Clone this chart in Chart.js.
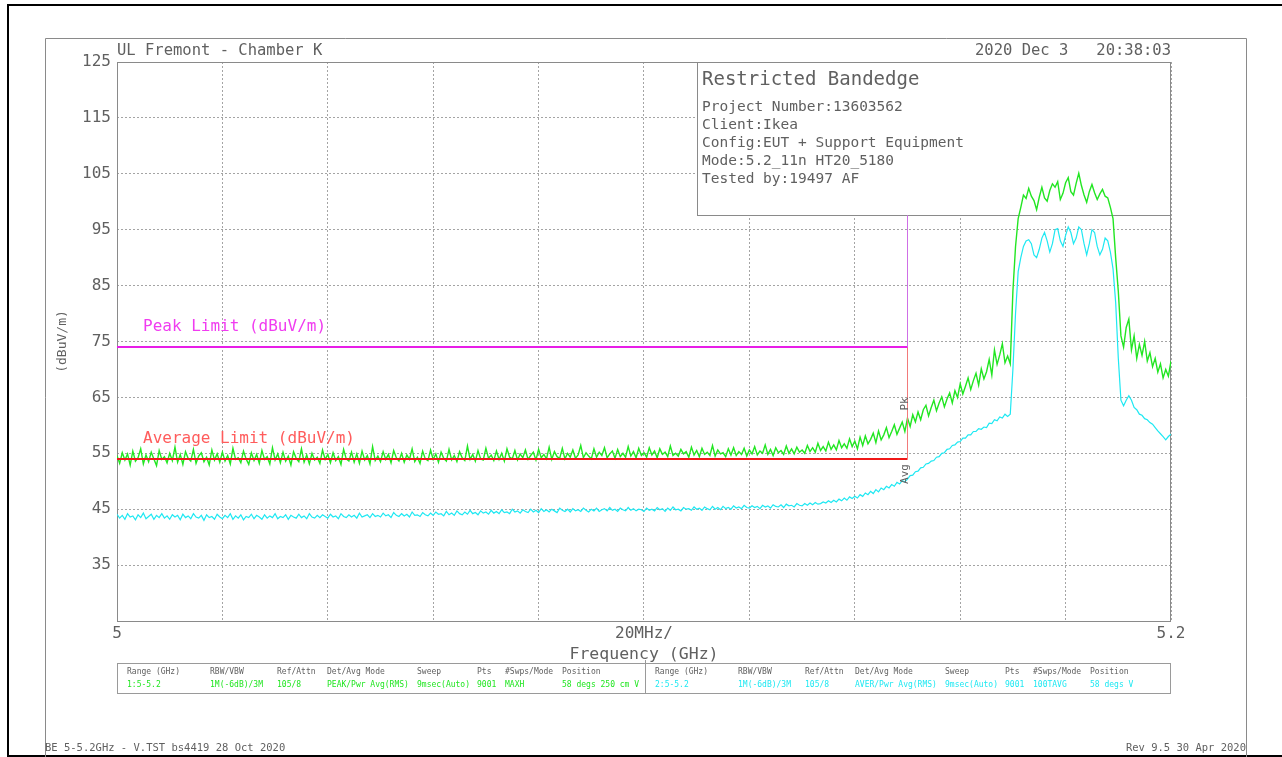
<!DOCTYPE html>
<html>
<head>
<meta charset="utf-8">
<script src="https://cdn.jsdelivr.net/npm/chart.js@4"></script>
<style>
  html, body { margin: 0; padding: 0; background: #fff; }
  canvas { display: block; }
</style>
</head>
<body>
<canvas id="scan" width="1282" height="757"></canvas>
<script>
// sweep: 5.0 - 5.2 GHz, values every 0.5 MHz
const freqStart = 5.0;
const freqStep = 0.0005;

// peak detector trace (green), dBuV/m
const peakTrace = [
  54.6,53.2,55.1,53.8,54.9,52.9,55.4,53.6,54.2,55.8,53.1,54.7,53.5,55.2,54.0,52.8,55.5,53.9,54.4,53.3,
  55.0,53.7,56.1,53.4,54.8,53.0,55.3,54.1,53.6,55.7,53.2,54.5,55.1,53.5,54.3,52.9,55.6,53.8,54.9,53.4,
  55.2,53.6,54.6,53.1,55.9,53.9,54.2,53.3,55.4,54.0,53.0,55.1,53.7,54.8,53.2,55.5,53.9,54.4,53.1,56.0,
  53.8,54.9,53.3,55.2,53.6,54.5,52.9,55.3,54.1,53.5,55.8,53.4,54.7,53.1,55.0,53.8,54.3,53.2,55.6,53.9,
  54.8,53.3,55.1,53.7,54.4,53.0,55.7,54.0,53.6,55.2,53.4,54.9,53.2,55.4,53.8,54.6,53.1,56.2,53.7,54.5,
  53.5,55.3,53.9,54.8,53.3,55.5,54.2,53.6,55.0,53.4,54.7,53.9,55.8,53.5,54.3,53.2,55.4,54.0,53.7,55.6,
  53.9,54.9,53.4,55.2,54.1,53.6,55.7,53.8,54.6,53.5,55.3,54.2,53.7,56.3,53.9,54.8,53.6,55.5,54.0,53.8,
  55.9,54.1,54.7,53.7,55.4,53.9,55.0,53.6,55.8,54.3,54.0,55.5,53.8,54.9,54.2,55.6,53.9,54.6,55.2,53.8,
  55.7,54.2,54.8,54.0,56.1,53.9,55.3,54.4,54.1,55.9,54.0,55.0,54.3,55.6,54.1,54.7,56.4,54.2,55.1,54.5,
  54.0,55.8,54.3,55.2,54.6,56.0,54.2,54.9,55.4,54.1,55.7,54.4,55.0,54.3,56.2,54.5,55.3,54.2,55.9,54.6,
  55.1,54.3,56.0,54.7,55.4,54.2,55.8,54.8,55.2,54.4,56.3,54.6,55.0,54.5,55.7,54.9,55.3,54.3,56.1,54.7,
  55.5,54.4,55.9,54.8,55.2,54.6,56.4,54.5,55.6,54.9,55.1,54.4,55.8,54.7,56.0,54.6,55.3,54.8,55.9,54.5,
  55.6,54.9,56.2,54.7,55.4,55.0,56.5,54.8,55.7,54.6,56.0,55.1,55.5,54.8,56.3,55.0,55.8,54.9,56.1,55.2,
  55.6,55.0,56.4,55.3,56.0,55.2,56.8,55.5,56.2,55.4,57.0,55.7,56.5,55.6,57.3,56.0,56.7,55.9,57.6,56.2,
  57.2,55.8,57.9,56.4,58.1,56.7,57.5,58.6,56.9,59.0,57.4,58.3,59.6,57.8,58.9,60.1,58.4,59.5,60.6,58.9,
  61.3,59.8,61.9,60.6,62.4,61.0,62.8,63.6,61.7,63.2,64.5,62.6,64.0,65.1,63.3,64.7,65.8,64.0,66.2,65.0,
  67.4,65.6,67.0,68.5,66.4,68.0,69.3,67.2,70.1,68.3,69.6,71.8,69.0,73.5,70.9,72.6,74.6,71.2,72.4,
  71,84,92,97,
  99,101.2,100.6,102.4,101.0,100.2,98.6,100.8,102.6,100.7,100.1,102.0,103.2,102.6,103.6,100.4,101.5,
  103.4,104.3,101.8,101.2,103.3,105.1,102.9,101.2,99.9,101.8,103.1,101.6,100.4,101.4,102.2,101.0,100.7,
  99,97,90,84,76,74,77.5,79,73.5,76,72,74.5,72.5,75,71.5,73,70.5,72,69.5,71,68.5,70,68.8,71.5
];

// average detector trace (cyan), dBuV/m
const avgTrace = [
  44.1,43.4,43.9,43.2,44.2,43.6,43.8,43.1,44.0,43.5,44.3,43.3,43.7,44.1,43.2,43.9,43.5,44.2,43.4,43.8,
  43.2,44.0,43.6,43.9,43.1,44.1,43.5,43.8,43.3,44.2,43.6,43.4,43.9,43.0,44.0,43.5,43.7,43.2,44.1,43.6,
  43.3,43.9,43.5,44.2,43.2,43.8,43.4,44.0,43.1,43.7,43.5,44.1,43.3,43.9,43.6,43.2,44.0,43.4,43.8,43.5,
  44.2,43.3,43.7,43.5,44.0,43.2,43.9,43.6,43.4,44.1,43.5,43.8,43.3,44.2,43.6,43.4,43.9,43.5,44.0,43.7,
  43.4,44.1,43.6,43.8,43.3,44.2,43.7,43.5,44.0,43.6,43.9,43.4,44.3,43.6,43.8,44.0,43.5,44.2,43.7,43.9,
  43.6,44.3,43.8,44.0,43.5,44.4,43.9,43.7,44.2,43.8,44.1,43.6,44.5,43.9,44.0,43.7,44.4,44.0,43.8,44.3,
  43.9,44.5,44.1,44.2,43.8,44.6,44.0,44.3,43.9,44.7,44.2,44.0,44.5,44.1,44.8,44.2,44.4,44.0,44.7,44.3,
  44.5,44.1,44.8,44.3,44.6,44.2,44.9,44.4,44.5,44.2,45.0,44.5,44.7,44.3,44.9,44.6,44.4,45.0,44.5,44.8,
  44.4,45.1,44.6,44.9,44.5,45.0,44.7,44.4,45.2,44.8,44.6,45.0,44.5,45.1,44.7,44.9,44.6,45.2,44.8,44.5,
  45.0,44.7,45.2,44.6,44.9,45.1,44.7,45.3,44.8,45.0,44.6,45.2,44.9,44.7,45.3,44.8,45.1,44.7,45.0,44.9,
  44.6,45.2,44.8,45.0,44.7,45.3,44.9,45.1,44.6,45.2,44.8,45.4,44.9,45.0,44.7,45.3,45.0,45.1,44.8,45.4,
  45.0,45.2,44.8,45.4,45.1,44.9,45.5,45.0,45.3,44.9,45.5,45.1,45.3,45.0,45.6,45.2,45.4,45.1,45.7,45.3,
  45.2,45.6,45.3,45.5,45.1,45.7,45.4,45.6,45.2,45.8,45.5,45.4,45.8,45.3,45.9,45.6,45.7,45.4,46.0,45.7,
  45.6,46.0,45.7,46.1,45.8,46.2,45.9,46.0,46.3,46.1,46.5,46.2,46.6,46.3,46.8,46.5,47.0,46.6,47.2,46.9,
  47.3,47.0,47.6,47.3,47.9,47.6,48.2,47.8,48.5,48.1,48.8,48.5,49.1,48.8,49.4,49.1,49.8,49.5,50.1,49.9,
  50.4,51.0,51.1,51.7,51.8,52.4,52.5,53.1,53.2,53.6,53.7,54.3,54.4,55.0,55.1,55.7,55.8,56.4,56.5,57.0,
  57.1,57.7,57.7,58.3,58.3,58.9,58.9,59.4,59.3,59.7,59.6,60.4,60.3,61.0,60.8,61.5,61.3,62.0,61.6,
  62,70,80,87.5,
  90,92,93,93.2,92.5,90.5,90,91.5,93.5,94.5,93,91,92.5,95,95.2,93,92,
  94,95.5,94.5,92.5,93.5,95.5,95,92.5,90.5,92.5,95,94.5,92,90.5,91.5,93.5,93,
  91,88,82,72,64.5,63.5,64.5,65.3,64.5,63.2,62.8,62,61.8,61.2,61,60.5,60.2,59.6,59,58.5,58,57.4,58,58.4
];

// limit lines (restricted band edge at 5.15 GHz)
const peakLimitFreq = [5.0, 5.15, 5.15];
const peakLimitLevel = [74, 74, 97.6];
const avgLimitFreq = [5.0, 5.15, 5.15];
const avgLimitLevel = [54, 54, 74];

// axes
const xTicks = [5.0, 5.02, 5.04, 5.06, 5.08, 5.1, 5.12, 5.14, 5.16, 5.18, 5.2];
const xTickLabels = ['5', '', '', '', '', '20MHz/', '', '', '', '', '5.2'];
const yTicks = [25, 35, 45, 55, 65, 75, 85, 95, 105, 115, 125];

// header / info box / settings table texts
const infoTitle = 'Restricted Bandedge';
const infoLines = ['Project Number:13603562', 'Client:Ikea', 'Config:EUT + Support Equipment',
  'Mode:5.2_11n HT20_5180', 'Tested by:19497 AF'];
const tableHeads = ['Range (GHz)', 'RBW/VBW', 'Ref/Attn', 'Det/Avg Mode', 'Sweep', 'Pts', '#Swps/Mode', 'Position'];
const peakRow = ['1:5-5.2', '1M(-6dB)/3M', '105/8', 'PEAK/Pwr Avg(RMS)', '9msec(Auto)', '9001', 'MAXH', '58 degs 250 cm V'];
const avgRow = ['2:5-5.2', '1M(-6dB)/3M', '105/8', 'AVER/Pwr Avg(RMS)', '9msec(Auto)', '9001', '100TAVG', '58 degs V'];
const tableCols = [127, 210, 277, 327, 417, 477, 505, 562];

const MONO = '"DejaVu Sans Mono", "Liberation Mono", monospace';
const TEXT = '#606060';
const GREEN = '#22e622';
const CYAN = '#1ee8f2';

const toXY = arr => arr.map((v, i) => ({ x: freqStart + i * freqStep, y: v }));
const zip = (xs, ys) => xs.map((x, i) => ({ x: x, y: ys[i] }));

const decor = {
  id: 'decor',
  beforeDatasetsDraw(chart) {
    const { ctx, chartArea: a } = chart;
    ctx.save();
    ctx.strokeStyle = '#8a8a8a';
    ctx.lineWidth = 1;
    ctx.strokeRect(a.left + 0.5, a.top + 0.5, a.right - a.left - 1, a.bottom - a.top);
    // info box sits under the traces
    ctx.fillStyle = '#fff';
    ctx.fillRect(697, a.top, a.right - 697, 153);
    ctx.strokeRect(697.5, a.top + 0.5, a.right - 698, 153);
    ctx.restore();
  },
  afterDraw(chart) {
    const { ctx, chartArea: a } = chart;
    ctx.save();
    // outer frames
    ctx.strokeStyle = '#000';
    ctx.lineWidth = 2;
    ctx.beginPath();
    ctx.moveTo(1282, 5); ctx.lineTo(8, 5); ctx.lineTo(8, 756); ctx.lineTo(1282, 756);
    ctx.stroke();
    ctx.strokeStyle = '#8a8a8a';
    ctx.lineWidth = 1;
    ctx.beginPath();
    ctx.moveTo(45.5, 757); ctx.lineTo(45.5, 38.5); ctx.lineTo(1246.5, 38.5); ctx.lineTo(1246.5, 757);
    ctx.stroke();

    ctx.textBaseline = 'middle';
    ctx.fillStyle = TEXT;
    ctx.font = '15.5px ' + MONO;
    ctx.textAlign = 'left';
    ctx.fillText('UL Fremont - Chamber K', a.left, 51);
    ctx.textAlign = 'right';
    ctx.fillText('2020 Dec 3   20:38:03', a.right, 51);

    // info box text
    ctx.textAlign = 'left';
    ctx.font = '19px ' + MONO;
    ctx.fillText(infoTitle, 702, 80);
    ctx.font = '14.5px ' + MONO;
    infoLines.forEach((t, i) => ctx.fillText(t, 702, 107 + i * 18));

    // limit labels
    ctx.font = '16px ' + MONO;
    ctx.fillStyle = '#f03cf0';
    ctx.fillText('Peak Limit (dBuV/m)', 143, 327);
    ctx.fillStyle = '#ff5c5c';
    ctx.fillText('Average Limit (dBuV/m)', 143, 439);

    // marker tags at the band edge
    const xe = chart.scales.x.getPixelForValue(5.15);
    ctx.fillStyle = TEXT;
    ctx.font = '11px ' + MONO;
    [['Pk', 404], ['Avg', 474]].forEach(([t, y]) => {
      ctx.save();
      ctx.translate(xe - 2, y);
      ctx.rotate(-Math.PI / 2);
      ctx.textAlign = 'center';
      ctx.fillText(t, 0, 0);
      ctx.restore();
    });

    // settings table
    ctx.strokeStyle = '#9a9a9a';
    ctx.strokeRect(a.left + 0.5, 663.5, a.right - a.left - 1, 30);
    ctx.beginPath();
    ctx.moveTo(645.5, 660); ctx.lineTo(645.5, 694);
    ctx.stroke();
    ctx.font = '8px ' + MONO;
    tableCols.forEach((x, i) => {
      ctx.fillStyle = TEXT;
      ctx.fillText(tableHeads[i], x, 672);
      ctx.fillText(tableHeads[i], x + 528, 672);
      ctx.fillStyle = GREEN;
      ctx.fillText(peakRow[i], x, 685);
      ctx.fillStyle = CYAN;
      ctx.fillText(avgRow[i], x + 528, 685);
    });

    // footer
    ctx.fillStyle = TEXT;
    ctx.font = '10.5px ' + MONO;
    ctx.textAlign = 'left';
    ctx.fillText('BE 5-5.2GHz - V.TST bs4419 28 Oct 2020', 45, 748);
    ctx.textAlign = 'right';
    ctx.fillText('Rev 9.5 30 Apr 2020', 1246, 748);
    ctx.restore();
  }
};

const edgeSeg = (solid, faint) => ({
  borderColor: c => (c.p0DataIndex === 1 ? faint : solid),
  borderWidth: c => (c.p0DataIndex === 1 ? 1 : 2)
});

new Chart(document.getElementById('scan').getContext('2d'), {
  type: 'line',
  data: {
    datasets: [
      { label: 'Peak Limit', data: zip(peakLimitFreq, peakLimitLevel), borderColor: '#e81ee8',
        borderWidth: 2, segment: edgeSeg('#e81ee8', '#cf6fe6') },
      { label: 'Average Limit', data: zip(avgLimitFreq, avgLimitLevel), borderColor: '#f01818',
        borderWidth: 2, segment: edgeSeg('#f01818', '#f27a7a') },
      { label: 'Peak', data: toXY(peakTrace), borderColor: GREEN, borderWidth: 1.4 },
      { label: 'Average', data: toXY(avgTrace), borderColor: CYAN, borderWidth: 1.2 }
    ]
  },
  options: {
    responsive: false,
    animation: false,
    devicePixelRatio: 1,
    layout: { padding: { top: 62, right: 111, bottom: 0, left: 0 } },
    elements: { point: { radius: 0 }, line: { tension: 0 } },
    plugins: { legend: { display: false }, tooltip: { enabled: false } },
    scales: {
      x: {
        type: 'linear', min: 5.0, max: 5.2,
        afterBuildTicks: s => { s.ticks = xTicks.map(v => ({ value: v })); },
        afterFit: s => { s.height = 136; },
        ticks: { autoSkip: false, maxRotation: 0, padding: 3, color: TEXT,
          font: { family: MONO, size: 16 },
          callback: (v, i) => xTickLabels[i] },
        grid: { color: '#a4a4a4', drawTicks: false },
        border: { display: false, dash: [2, 2] },
        title: { display: true, text: 'Frequency (GHz)', color: TEXT,
          font: { family: MONO, size: 16.5 }, padding: { top: 0, bottom: 92 } }
      },
      y: {
        min: 25, max: 125,
        afterBuildTicks: s => { s.ticks = yTicks.map(v => ({ value: v })); },
        afterFit: s => { s.width = 117; },
        ticks: { padding: 6, color: TEXT, font: { family: MONO, size: 16 },
          callback: v => (v === 25 ? '' : String(v)) },
        grid: { color: '#a4a4a4', drawTicks: false },
        border: { display: false, dash: [2, 2] },
        title: { display: true, text: '(dBuV/m)', color: TEXT,
          font: { family: MONO, size: 13 }, padding: { top: 55, bottom: 0 } }
      }
    }
  },
  plugins: [decor]
});
</script>
</body>
</html>
